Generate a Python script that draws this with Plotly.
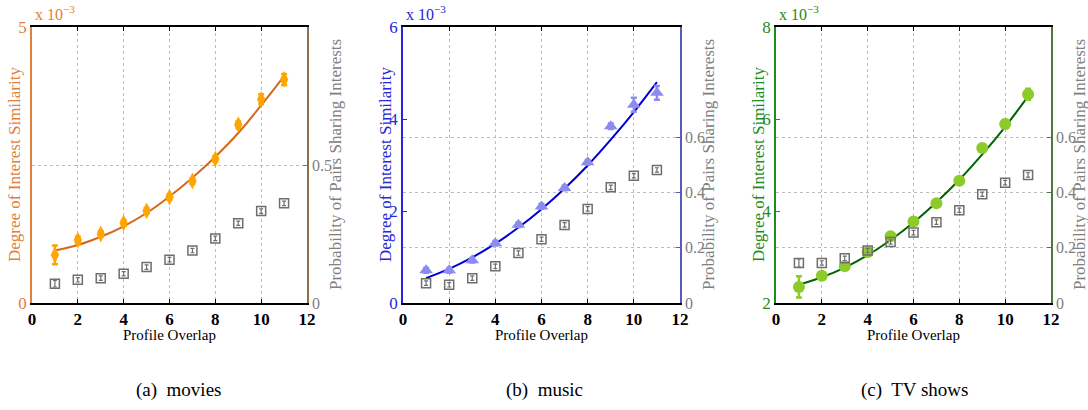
import plotly.graph_objects as go

W, H = 1088, 410

# ---------------- data ----------------
overlap = [1, 2, 3, 4, 5, 6, 7, 8, 9, 10, 11]

# (a) movies
movies_sim = [0.87, 1.14, 1.25, 1.45, 1.67, 1.92, 2.21, 2.61, 3.23, 3.69, 4.05]
movies_sim_err = [0.17, 0.06, 0.05, 0.05, 0.05, 0.05, 0.05, 0.05, 0.06, 0.09, 0.10]
movies_fit = [0.95, 1.05, 1.20, 1.39, 1.63, 1.93, 2.27, 2.65, 3.08, 3.58, 4.11]
movies_prob = [0.070, 0.084, 0.090, 0.106, 0.130, 0.157, 0.190, 0.234, 0.289, 0.333, 0.361]
movies_prob_err = [0.012, 0.008, 0.008, 0.008, 0.008, 0.008, 0.008, 0.008, 0.008, 0.008, 0.008]

# (b) music
music_sim = [0.71, 0.71, 0.93, 1.30, 1.70, 2.10, 2.50, 3.06, 3.84, 4.31, 4.57]
music_sim_err = [0.05, 0.05, 0.05, 0.05, 0.05, 0.05, 0.05, 0.05, 0.06, 0.15, 0.15]
music_fit = [0.54, 0.74, 0.99, 1.29, 1.64, 2.04, 2.49, 2.99, 3.55, 4.15, 4.80]
music_prob = [0.072, 0.066, 0.090, 0.133, 0.181, 0.231, 0.283, 0.341, 0.419, 0.461, 0.482]
music_prob_err = [0.008] * 11

# (c) TV shows
tv_sim = [2.35, 2.59, 2.80, 3.11, 3.45, 3.77, 4.17, 4.66, 5.37, 5.89, 6.54]
tv_sim_err = [0.23, 0.06, 0.05, 0.05, 0.05, 0.05, 0.05, 0.05, 0.06, 0.09, 0.12]
tv_fit = [2.40, 2.56, 2.77, 3.04, 3.37, 3.75, 4.19, 4.68, 5.23, 5.83, 6.49]
tv_prob = [0.145, 0.145, 0.162, 0.190, 0.221, 0.255, 0.293, 0.336, 0.394, 0.436, 0.464]
tv_prob_err = [0.015, 0.008, 0.008, 0.008, 0.008, 0.008, 0.008, 0.008, 0.008, 0.008, 0.008]

x_ticks = [0, 2, 4, 6, 8, 10, 12]
captions = ["(a)  movies", "(b)  music", "(c)  TV shows"]

panels = [
    dict(sim=movies_sim, err=movies_sim_err, fit=movies_fit, prob=movies_prob, perr=movies_prob_err,
         left_range=[0, 5], left_ticks=[0, 5], right_ticks=[0, 0.5],
         axis_color="#E0803A", marker_color="#FFA500", line_color="#D2691E",
         spine_color="#8C6E50", symbol="diamond-tall", msize=12,
         px=(32, 307), cap_x=178),
    dict(sim=music_sim, err=music_sim_err, fit=music_fit, prob=music_prob, perr=music_prob_err,
         left_range=[0, 6], left_ticks=[0, 2, 4, 6], right_ticks=[0, 0.2, 0.4, 0.6],
         axis_color="#2626D9", marker_color="#8C8CF0", line_color="#0000CD",
         spine_color="#5A5AB8", symbol="triangle-up", msize=12,
         px=(403, 680), cap_x=544),
    dict(sim=tv_sim, err=tv_sim_err, fit=tv_fit, prob=tv_prob, perr=tv_prob_err,
         left_range=[2, 8], left_ticks=[2, 4, 6, 8], right_ticks=[0, 0.2, 0.4, 0.6],
         axis_color="#1E8C1E", marker_color="#8CCB2A", line_color="#006400",
         spine_color="#4A7A3A", symbol="circle", msize=12,
         px=(776, 1051), cap_x=915),
]

SERIF = "Liberation Serif"
GRAY = "#808080"
y_top_px, y_bot_px = 27, 303
ydom = [1 - y_bot_px / H, 1 - y_top_px / H]

fig = go.Figure()
layout = dict(
    width=W, height=H, margin=dict(l=0, r=0, t=0, b=0, autoexpand=False),
    paper_bgcolor="white", plot_bgcolor="white", showlegend=False,
    font=dict(family=SERIF, size=15, color="black"),
)
annotations = []

for i, p in enumerate(panels):
    k = i + 1
    xa = "x" if k == 1 else f"x{k}"
    yl_n = 2 * i + 1
    yr_n = 2 * i + 2
    yl = "y" if yl_n == 1 else f"y{yl_n}"
    yr = f"y{yr_n}"
    xdom = [p["px"][0] / W, p["px"][1] / W]

    fig.add_trace(go.Scatter(
        x=overlap, y=p["prob"], xaxis=xa, yaxis=yr, mode="markers",
        marker=dict(symbol="square-open", size=9, color="#6E6E6E", line=dict(width=1.5)),
        error_y=dict(type="data", array=p["perr"], color="#6E6E6E", thickness=1.2, width=2),
    ))
    fig.add_trace(go.Scatter(
        x=overlap, y=p["fit"], xaxis=xa, yaxis=yl, mode="lines",
        line=dict(color=p["line_color"], width=2, shape="spline", smoothing=1.0),
    ))
    fig.add_trace(go.Scatter(
        x=overlap, y=p["sim"], xaxis=xa, yaxis=yl, mode="markers",
        marker=dict(symbol=p["symbol"], size=p["msize"], color=p["marker_color"]),
        error_y=dict(type="data", array=p["err"], color=p["marker_color"], thickness=2.5, width=3),
    ))

    xkey = "xaxis" if k == 1 else f"xaxis{k}"
    ylkey = "yaxis" if yl_n == 1 else f"yaxis{yl_n}"
    yrkey = f"yaxis{yr_n}"

    layout[xkey] = dict(
        domain=xdom, anchor=yl, range=[0, 12], tickvals=x_ticks, automargin=False,
        showline=True, linecolor="black", linewidth=1.5, mirror="ticks",
        ticks="inside", ticklen=4, tickcolor="black",
        showgrid=True, gridcolor="#BDBDBD", griddash="dot", gridwidth=1,
        zeroline=False,
        tickfont=dict(family=SERIF, size=17, color="black", weight="bold"),
    )
    layout[ylkey] = dict(
        domain=ydom, anchor=xa, range=p["left_range"], tickvals=p["left_ticks"], automargin=False,
        showline=True, linecolor=p["axis_color"], linewidth=1.5,
        ticks="inside", ticklen=4, tickcolor=p["axis_color"],
        showgrid=False, zeroline=False,
        tickfont=dict(family=SERIF, size=17, color=p["axis_color"]),
    )
    layout[yrkey] = dict(
        domain=ydom, anchor=xa, overlaying=yl, side="right", range=[0, 1], automargin=False,
        tickvals=p["right_ticks"],
        showline=True, linecolor=p["spine_color"], linewidth=1.5,
        ticks="inside", ticklen=4, tickcolor=p["spine_color"],
        showgrid=True, gridcolor="#BDBDBD", griddash="dot", gridwidth=1,
        zeroline=False,
        tickfont=dict(family=SERIF, size=16, color=GRAY),
    )

    left_px, right_px = p["px"]
    mid_y = 1 - ((y_top_px + y_bot_px) / 2) / H
    annotations.append(dict(
        text="Degree of Interest Similarity", textangle=-90,
        x=(left_px - 18) / W, y=mid_y, xref="paper", yref="paper",
        xanchor="center", yanchor="middle", showarrow=False,
        font=dict(family=SERIF, size=17, color=p["axis_color"]),
    ))
    annotations.append(dict(
        text="Probability of Pairs Sharing Interests", textangle=-90,
        x=(right_px + 28) / W, y=mid_y, xref="paper", yref="paper",
        xanchor="center", yanchor="middle", showarrow=False,
        font=dict(family=SERIF, size=17, color=GRAY),
    ))
    annotations.append(dict(
        text="Profile Overlap",
        x=((left_px + right_px) / 2) / W, y=1 - 335 / H, xref="paper", yref="paper",
        xanchor="center", yanchor="middle", showarrow=False,
        font=dict(family=SERIF, size=15, color="black"),
    ))
    annotations.append(dict(
        text="x 10<sup>−3</sup>",
        x=(left_px + 1) / W, y=1 - 25 / H, xref="paper", yref="paper",
        xanchor="left", yanchor="bottom", showarrow=False,
        font=dict(family=SERIF, size=16, color=p["axis_color"]),
    ))
    annotations.append(dict(
        text=captions[i],
        x=p["cap_x"] / W, y=1 - 390 / H, xref="paper", yref="paper",
        xanchor="center", yanchor="middle", showarrow=False,
        font=dict(family=SERIF, size=19, color="black"),
    ))

layout["annotations"] = annotations
fig.update_layout(**layout)
fig.write_html("out.html")
